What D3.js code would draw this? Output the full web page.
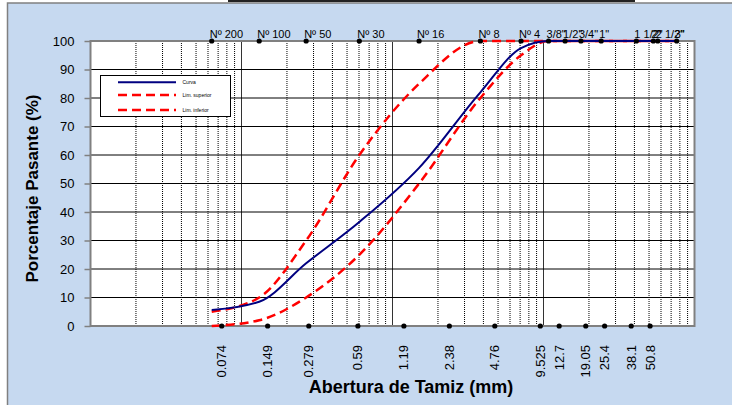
<!DOCTYPE html>
<html>
<head>
<meta charset="utf-8">
<script src="https://cdn.jsdelivr.net/npm/d3@7/dist/d3.min.js"></script>
<style>
    body { margin: 0; background: #fff; }
    svg { display: block; font-family: "Liberation Sans", Arial, sans-serif; }
</style>
</head>
<body>
<svg id="chart"></svg>
<script>
// sieve names on top and where their points sit on the log axis (mm)
const sieveLabels = ["Nº 200", "Nº 100", "Nº 50", "Nº 30", "Nº 16", "Nº 8", "Nº 4",
    '3/8"', '1/2"', '3/4"', '1"', '1 1/2"', '2"', '2 1/2"', '3"'];
const sievePos = [0.0635, 0.131, 0.268, 0.603, 1.50, 3.82, 7.10,
    10.8, 13.9, 17.7, 24.1, 41.2, 53.4, 57.1, 76.2];

// series (% passing)
const curva = [5.6, 8.5, 22, 36.5, 55.5, 82, 97.5, 100, 100, 100, 100, 100, 100, 100, 100];
const limSuperior = [5, 10, 30, 60, 85, 100, 100, 100, 100, 100, 100, 100, 100, 100, 100];
const limInferior = [0, 2, 10, 25, 50, 80, 95, 100, 100, 100, 100, 100, 100, 100, 100];

// bottom tick labels (mm)
const aberturas = [0.074, 0.149, 0.279, 0.59, 1.19, 2.38, 4.76, 9.525, 12.7, 19.05, 25.4, 38.1, 50.8];
const aberturaLabels = ["0.074", "0.149", "0.279", "0.59", "1.19", "2.38", "4.76", "9.525",
    "12.7", "19.05", "25.4", "38.1", "50.8"];

const yTicks = [0, 10, 20, 30, 40, 50, 60, 70, 80, 90, 100];

const legendItems = [
    { name: "Curva", color: "#000080", dash: null },
    { name: "Lim. superior", color: "#ff0000", dash: "9,5" },
    { name: "Lim. inferior", color: "#ff0000", dash: "9,5" }
];

const W = 732, H = 405;
const pLeft = 90.5, pRight = 694.5, pTop = 41, pBottom = 326;

const svg = d3.select("#chart").attr("width", W).attr("height", H);

const x = d3.scaleLog().domain([0.01, 100]).range([pLeft, pRight]);
const y = d3.scaleLinear().domain([0, 100]).range([pBottom, pTop]);

// chart background + frame
svg.append("rect")
    .attr("x", 7.5).attr("y", 3)
    .attr("width", W + 10).attr("height", H + 10)
    .attr("fill", "#c6d9f0")
    .attr("stroke", "#808080")
    .attr("stroke-width", 1.5);

// bit of the title box cut off on the top
svg.append("rect")
    .attr("x", 228).attr("y", 0)
    .attr("width", 407).attr("height", 2)
    .attr("fill", "#222");

// plot area
svg.append("rect")
    .attr("x", pLeft).attr("y", pTop)
    .attr("width", pRight - pLeft).attr("height", pBottom - pTop)
    .attr("fill", "#fff");

// vertical grid: decades solid, the rest dotted
let vLines = [];
[0.01, 0.1, 1, 10].forEach(d => {
    for (let m = 1; m <= 9; m++) {
        if (d === 0.01 && m === 1) continue;
        vLines.push({ v: d * m, major: m === 1 });
    }
});

svg.append("g")
    .selectAll("line")
    .data(vLines)
    .join("line")
    .attr("x1", d => x(d.v)).attr("x2", d => x(d.v))
    .attr("y1", pTop).attr("y2", pBottom)
    .attr("stroke", d => d.major ? "#333" : "#000")
    .attr("stroke-width", 1)
    .attr("stroke-dasharray", d => d.major ? null : "1,1");

// horizontal grid
svg.append("g")
    .selectAll("line")
    .data(yTicks.filter(t => t > 0 && t < 100))
    .join("line")
    .attr("x1", pLeft).attr("x2", pRight)
    .attr("y1", d => y(d)).attr("y2", d => y(d))
    .attr("stroke", "#000")
    .attr("stroke-width", 1);

// plot border
svg.append("rect")
    .attr("x", pLeft).attr("y", pTop)
    .attr("width", pRight - pLeft).attr("height", pBottom - pTop)
    .attr("fill", "none")
    .attr("stroke", "#808080")
    .attr("stroke-width", 2);

// y axis
const yAxis = d3.axisLeft(y).tickValues(yTicks).tickSize(6).tickPadding(10);
const gy = svg.append("g")
    .attr("transform", `translate(${pLeft},0)`)
    .call(yAxis);
gy.select(".domain").remove();
gy.selectAll(".tick line").attr("stroke", "#808080").attr("stroke-width", 1.5);
gy.selectAll(".tick text")
    .attr("font-size", 13)
    .attr("font-family", "Liberation Sans, Arial, sans-serif")
    .attr("fill", "#000");

// legend box
const lg = svg.append("g");
lg.append("rect")
    .attr("x", 100.5).attr("y", 75.5)
    .attr("width", 130).attr("height", 41)
    .attr("fill", "#fff")
    .attr("stroke", "#000")
    .attr("stroke-width", 1);

const legendY = [82.3, 95, 110];
legendItems.forEach((it, i) => {
    lg.append("line")
        .attr("x1", 118).attr("x2", 176)
        .attr("y1", legendY[i]).attr("y2", legendY[i])
        .attr("stroke", it.color)
        .attr("stroke-width", i === 0 ? 2 : 2.5)
        .attr("stroke-dasharray", it.dash);
    lg.append("text")
        .attr("x", 182.5).attr("y", legendY[i] + 1.8)
        .attr("font-size", 5)
        .text(it.name);
});

// curves
const line = d3.line()
    .x((d, i) => x(sievePos[i]))
    .y(d => y(d))
    .curve(d3.curveMonotoneX);

svg.append("path")
    .attr("d", line(limSuperior))
    .attr("fill", "none")
    .attr("stroke", "#ff0000")
    .attr("stroke-width", 2.5)
    .attr("stroke-dasharray", "9,5");

svg.append("path")
    .attr("d", line(limInferior))
    .attr("fill", "none")
    .attr("stroke", "#ff0000")
    .attr("stroke-width", 2.5)
    .attr("stroke-dasharray", "9,5");

svg.append("path")
    .attr("d", line(curva))
    .attr("fill", "none")
    .attr("stroke", "#000080")
    .attr("stroke-width", 2);

// top markers + sieve names
svg.append("g")
    .selectAll("circle")
    .data(sievePos)
    .join("circle")
    .attr("cx", d => x(d)).attr("cy", pTop)
    .attr("r", 2.6)
    .attr("fill", "#000");

svg.append("g")
    .selectAll("text")
    .data(sieveLabels)
    .join("text")
    .attr("x", (d, i) => x(sievePos[i]) - 2)
    .attr("y", 37.5)
    .attr("font-size", 11)
    .attr("fill", "#000")
    .text(d => d);

// bottom markers + openings
svg.append("g")
    .selectAll("circle")
    .data(aberturas)
    .join("circle")
    .attr("cx", d => x(d)).attr("cy", pBottom)
    .attr("r", 2.6)
    .attr("fill", "#000");

svg.append("g")
    .selectAll("text")
    .data(aberturas)
    .join("text")
    .attr("transform", d => `translate(${x(d) + 4.5},345) rotate(-90)`)
    .attr("text-anchor", "end")
    .attr("font-size", 13)
    .attr("fill", "#000")
    .text((d, i) => aberturaLabels[i]);

// axis titles
svg.append("text")
    .attr("x", 411).attr("y", 393)
    .attr("text-anchor", "middle")
    .attr("font-size", 18)
    .attr("font-weight", "bold")
    .text("Abertura de Tamiz (mm)");

svg.append("text")
    .attr("transform", "translate(37.5,188.5) rotate(-90)")
    .attr("text-anchor", "middle")
    .attr("font-size", 17)
    .attr("font-weight", "bold")
    .text("Porcentaje Pasante (%)");
</script>
</body>
</html>
